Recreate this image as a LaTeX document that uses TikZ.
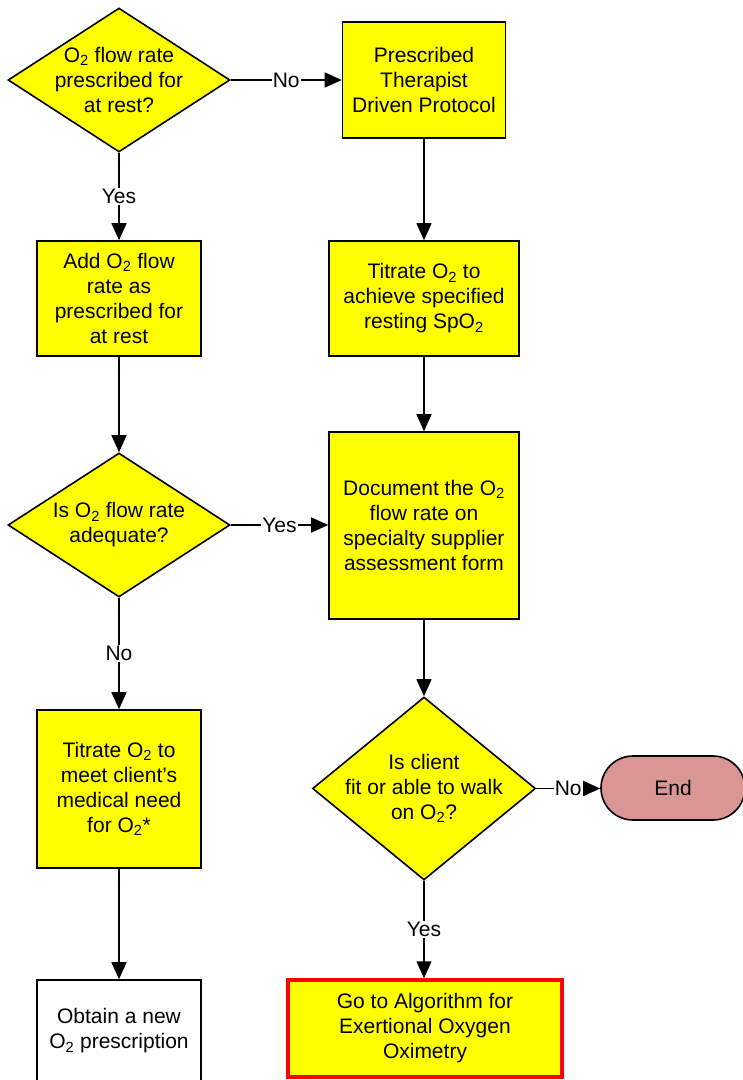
\documentclass[tikz,border=0pt]{standalone}
\usepackage{fontspec}
\setmainfont{Liberation Sans}
\usetikzlibrary{shapes.geometric,arrows.meta}
\definecolor{boxyellow}{HTML}{FFFF00}
\definecolor{endpink}{HTML}{D99694}
\definecolor{alertred}{HTML}{FF0000}
\newcommand{\Otwo}{O\textsubscript{2}}
\begin{document}
\begin{tikzpicture}[x=1pt,y=1pt,
  every node/.style={font=\fontsize{21}{25}\selectfont},
  process/.style={draw=black, line width=1.6pt, fill=boxyellow, align=center, inner sep=0pt},
  decision/.style={draw=black, line width=1.6pt, fill=boxyellow, diamond, inner sep=0pt},
  qtext/.style={align=center, inner sep=0pt, font=\fontsize{21}{25}\selectfont},
  terminal/.style={draw=black, line width=1.6pt, fill=endpink, rounded corners=32pt, inner sep=0pt},
  flow/.style={draw=black, line width=1.6pt, -{Triangle[length=17pt,width=15pt]}},
  branch/.style={fill=white, inner sep=1pt}
]
\useasboundingbox (0,0) rectangle (743,-1080);

% left column
\node[decision, minimum width=222pt, minimum height=144pt,
      label={[qtext]center:{\Otwo{} flow rate\\prescribed for\\at rest?}}] (d1) at (119,-80) {};
\node[process, minimum width=164pt, minimum height=115pt] (add) at (119,-298.5)
  {Add \Otwo{} flow\\rate as\\prescribed for\\at rest};
\node[decision, minimum width=222pt, minimum height=144pt,
      label={[qtext]center:{Is \Otwo{} flow rate\\adequate?}}] (d2) at (119,-525) {};
\node[process, minimum width=164pt, minimum height=158pt] (need) at (119,-789)
  {Titrate \Otwo{} to\\meet client's\\medical need\\for \Otwo*};
\node[process, fill=white, minimum width=164pt, minimum height=102pt] (obt) at (119,-1031)
  {Obtain a new\\\Otwo{} prescription};

% right column
\node[process, minimum width=163pt, minimum height=116pt] (ptd) at (424,-80)
  {Prescribed\\Therapist\\Driven Protocol};
\node[process, minimum width=190pt, minimum height=115pt] (tit) at (424,-298.5)
  {Titrate \Otwo{} to\\achieve specified\\resting Sp\Otwo};
\node[process, minimum width=190pt, minimum height=187pt] (doc) at (424,-525.5)
  {Document the \Otwo\\flow rate on\\specialty supplier\\assessment form};
\node[decision, minimum width=223pt, minimum height=183pt,
      label={[qtext]center:{Is client\\fit or able to walk\\on \Otwo?}}] (d3) at (424,-788.5) {};
\node[terminal, minimum width=144pt, minimum height=64pt] (end) at (673,-788) {End};
\node[process, draw=alertred, line width=3.5pt, minimum width=274pt, minimum height=97pt] (alg) at (425,-1028.5)
  {Go to Algorithm for\\Exertional Oxygen\\Oximetry};

% connectors
\draw[flow] (d1.east) -- (d1.east -| ptd.west) node[branch, midway] {No};
\draw[flow] (d1.south) -- (add.north) node[branch, midway] {Yes};
\draw[flow] (ptd.south) -- (tit.north);
\draw[flow] (add.south) -- (d2.north);
\draw[flow] (tit.south) -- (doc.north);
\draw[flow] (d2.east) -- (d2.east -| doc.west) node[branch, midway] {Yes};
\draw[flow] (d2.south) -- (need.north) node[branch, midway] {No};
\draw[flow] (need.south) -- (obt.north);
\draw[flow] (doc.south) -- (d3.north);
\draw[flow] (d3.east) -- (d3.east -| end.west) node[branch, midway] {No};
\draw[flow] (d3.south) -- (d3.south |- alg.north) node[branch, midway] {Yes};
\end{tikzpicture}
\end{document}
